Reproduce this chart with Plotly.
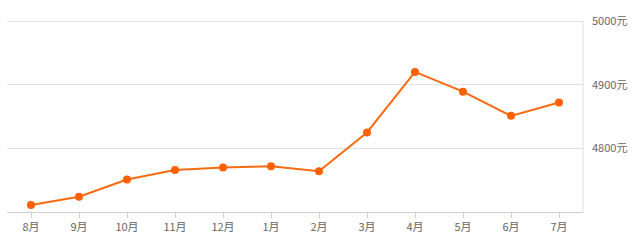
import plotly.graph_objects as go

months = ["8月", "9月", "10月", "11月", "12月", "1月", "2月", "3月", "4月", "5月", "6月", "7月"]
prices = [4711, 4724, 4751, 4766, 4770, 4772, 4764, 4825, 4920, 4889, 4851, 4872]
y_ticks = [4800, 4900, 5000]
y_labels = [f"{v}元" for v in y_ticks]

fig = go.Figure()
fig.add_trace(go.Scatter(
    x=list(range(len(months))), y=prices, mode="lines+markers",
    line=dict(color="#f86b10", width=2),
    marker=dict(color="#ff6000", size=8),
    hoverinfo="skip",
))

fig.update_layout(
    width=640, height=245,
    margin=dict(l=7, r=57, t=20, b=33),
    paper_bgcolor="white", plot_bgcolor="white",
    showlegend=False,
    font=dict(family="Noto Sans CJK SC, sans-serif", size=11, color="#666"),
    xaxis=dict(
        tickmode="array", tickvals=list(range(len(months))), ticktext=months,
        range=[-0.5, len(months) - 0.5],
        showgrid=False, zeroline=False,
        showline=True, linecolor="#d0d0d0", linewidth=1,
        ticks="outside", ticklen=5, tickcolor="#d0d0d0",
        tickfont=dict(size=11, color="#666"),
    ),
    yaxis=dict(
        side="right", range=[4700, 5001.6],
        tickmode="array", tickvals=y_ticks, ticktext=y_labels,
        showgrid=True, gridcolor="#e0e0e0", gridwidth=1,
        zeroline=False, showline=False,
        ticks="", ticklabelstandoff=8,
        tickfont=dict(size=11, color="#666"),
    ),
    shapes=[dict(type="line", xref="paper", yref="y", x0=1, x1=1, y0=4700, y1=5000,
                 line=dict(color="#e0e0e0", width=1))],
)

fig.write_html("out.html")
